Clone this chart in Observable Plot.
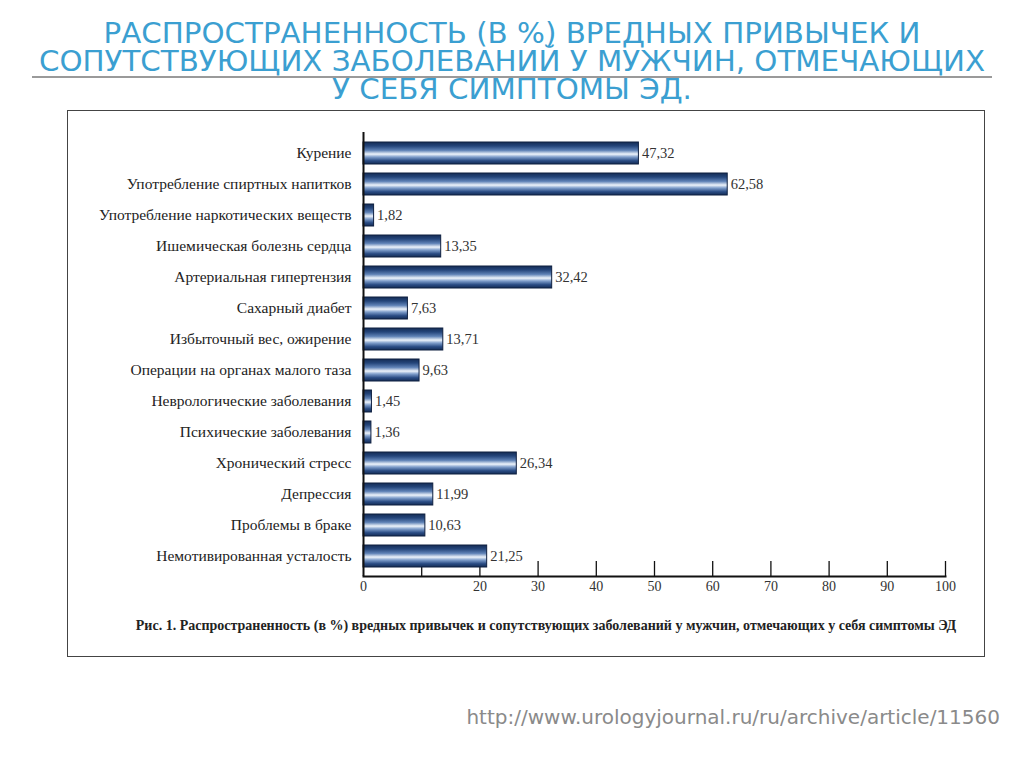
<!DOCTYPE html>
<html lang="ru">
<head>
<meta charset="utf-8">
<script src="https://cdn.jsdelivr.net/npm/d3@7"></script>
<script src="https://cdn.jsdelivr.net/npm/@observablehq/plot@0.6"></script>
<style>
  html, body { margin: 0; padding: 0; background: #fff; }
  #page { position: relative; width: 1024px; height: 768px; overflow: hidden; }
  #title { position: absolute; left: 0; top: 20px; width: 1024px; text-align: center;
    font-family: "DejaVu Sans", sans-serif; font-size: 28px; line-height: 28px; color: #3b9fd1;
    transform: scaleX(1.047); transform-origin: 512px 0; }
  #rule { position: absolute; left: 32px; top: 76px; width: 960px; height: 2px; background: #9a9a9a; }
  #box { position: absolute; left: 67px; top: 110px; width: 916px; height: 545px; border: 1px solid #444; background: #fff; }
  #chart { position: absolute; left: 0; top: 0; }
  #caption { position: absolute; left: 0; top: 507px; width: 956px; text-align: center;
    font-family: "Liberation Serif", serif; font-weight: bold; font-size: 14px; color: #222; white-space: nowrap; }
  #url { position: absolute; right: 24px; top: 705px; font-family: "DejaVu Sans", sans-serif; font-size: 20px; color: #8a8a8a; }
</style>
</head>
<body>
<div id="page">
  <div id="title">РАСПРОСТРАНЕННОСТЬ (В %) ВРЕДНЫХ ПРИВЫЧЕК И<br>СОПУТСТВУЮЩИХ ЗАБОЛЕВАНИЙ У МУЖЧИН, ОТМЕЧАЮЩИХ<br>У СЕБЯ СИМПТОМЫ ЭД.</div>
  <div id="rule"></div>
  <div id="box">
    <div id="chart"></div>
    <div id="caption">Рис. 1. Распространенность (в %) вредных привычек и сопутствующих заболеваний у мужчин, отмечающих у себя симптомы ЭД</div>
  </div>
  <div id="url">http://www.urologyjournal.ru/ru/archive/article/11560</div>
</div>
<script>
const categories = [
  "Курение",
  "Употребление спиртных напитков",
  "Употребление наркотических веществ",
  "Ишемическая болезнь сердца",
  "Артериальная гипертензия",
  "Сахарный диабет",
  "Избыточный вес, ожирение",
  "Операции на органах малого таза",
  "Неврологические заболевания",
  "Психические заболевания",
  "Хронический стресс",
  "Депрессия",
  "Проблемы в браке",
  "Немотивированная усталость"
];
const values = [47.32, 62.58, 1.82, 13.35, 32.42, 7.63, 13.71, 9.63, 1.45, 1.36, 26.34, 11.99, 10.63, 21.25];
const tickValues = [10, 20, 30, 40, 50, 60, 70, 80, 90, 100];
const tickLabels = [0, 20, 30, 40, 50, 60, 70, 80, 90, 100];

const data = categories.map((c, i) => ({category: c, value: values[i]}));
const fmt = v => v.toFixed(2).replace(".", ",");

function gradientDefs() {
  const defs = d3.create("svg:defs");
  const g = defs.append("linearGradient").attr("id", "barGrad")
    .attr("x1", 0).attr("y1", 0).attr("x2", 0).attr("y2", 1);
  [["0%", "#142c55"], ["18%", "#24457a"], ["38%", "#5f82b6"], ["55%", "#eef4fb"],
   ["68%", "#7f9ecb"], ["85%", "#2a4c84"], ["100%", "#142c55"]]
    .forEach(([o, c]) => g.append("stop").attr("offset", o).attr("stop-color", c));
  return defs.node();
}

const H = 495, top_ = 21, bottom_ = 30;
const chart = Plot.plot({
  width: 916,
  height: H,
  marginLeft: 295,
  marginRight: 39,
  marginTop: top_,
  marginBottom: bottom_,
  style: {fontFamily: "Liberation Serif, serif", background: "transparent", color: "#222"},
  x: {domain: [0, 100]},
  y: {domain: categories, paddingInner: 0.3, paddingOuter: 0.15},
  marks: [
    gradientDefs,
    Plot.ruleX(tickValues, {x: d => d, insetTop: H - top_ - bottom_ - 15, stroke: "#111", strokeWidth: 1.3}),
    Plot.barX(data, {x: "value", y: "category", fill: "url(#barGrad)", stroke: "#0f2040", strokeWidth: 1}),
    Plot.ruleX([0], {stroke: "#111", strokeWidth: 2}),
    Plot.frame({anchor: "bottom", stroke: "#111", strokeWidth: 2}),
    Plot.axisX({ticks: tickLabels, tickSize: 0, tickPadding: 5, fontSize: 14, label: null, tickFormat: d => String(d), fill: "#333"}),
    Plot.axisY({tickSize: 0, tickPadding: 12, fontSize: 15.5, label: null, fill: "#222"}),
    Plot.text(data, {x: "value", y: "category", text: d => fmt(d.value), textAnchor: "start", dx: 3, fontSize: 14.5, fill: "#333"})
  ]
});
document.getElementById("chart").appendChild(chart);
</script>
</body>
</html>
